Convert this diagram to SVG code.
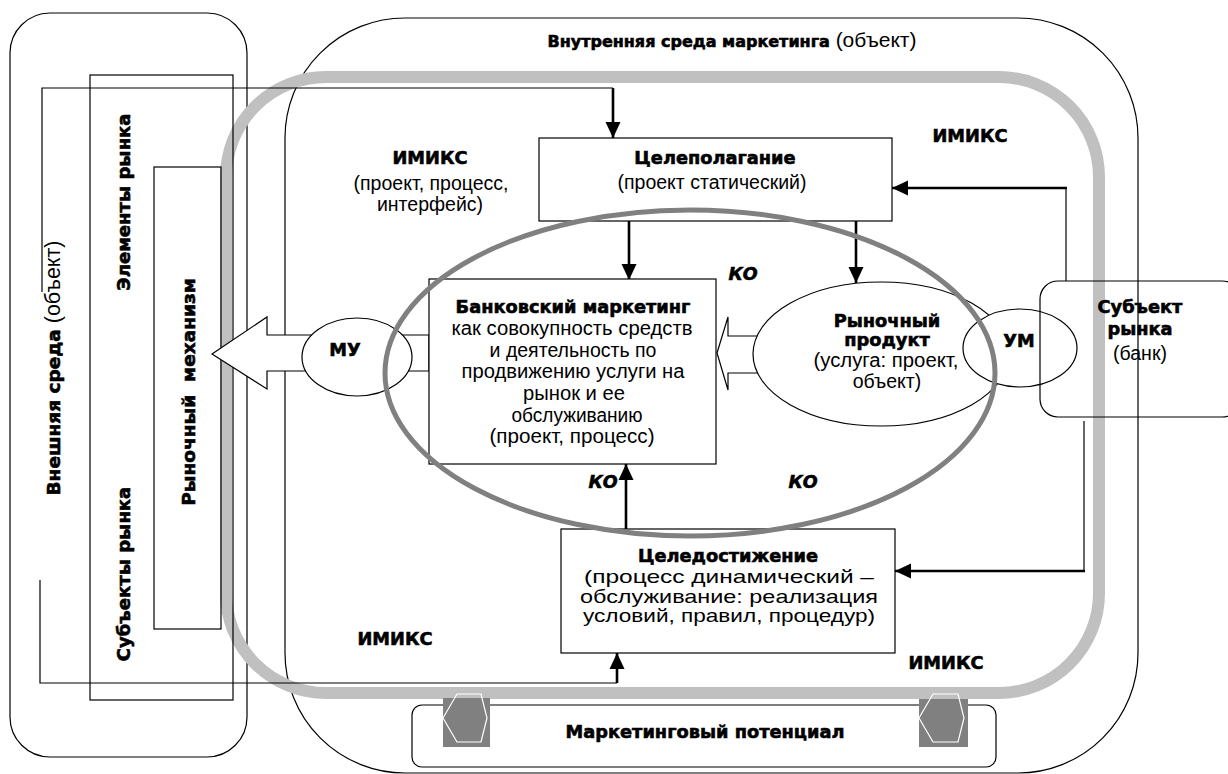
<svg xmlns="http://www.w3.org/2000/svg" width="1228" height="774" viewBox="0 0 1228 774">
<style>
.b{font-family:"DejaVu Sans",sans-serif;font-weight:bold;font-size:17.8px;fill:#000;stroke:#000;stroke-width:0.6}
.r{font-family:"Liberation Sans",Arial,sans-serif;font-size:19.5px;fill:#000;stroke:none;font-weight:normal}
.bi{font-family:"DejaVu Sans",sans-serif;font-weight:bold;font-style:italic;font-size:17.5px;fill:#000;stroke:#000;stroke-width:0.6}
.ln{fill:none;stroke:#000;stroke-width:1.2}
.th{fill:none;stroke:#000;stroke-width:2.6;marker-end:url(#ah)}
.box{fill:#fff;stroke:#000;stroke-width:1.2}
.open{fill:none;stroke:#000;stroke-width:1.2}
.hexsq{fill:#808080}
.hex{fill:none;stroke:#fff;stroke-width:1.2}
text{text-anchor:middle}
</style>
<defs>
<marker id="ah" markerUnits="userSpaceOnUse" markerWidth="16" markerHeight="16" refX="16" refY="8" orient="auto">
<path d="M0,0.5 L16,8 L0,15.5 z" fill="#000"/>
</marker>
</defs>
<rect width="1228" height="774" fill="#fff"/>

<g id="external-env">
<rect class="open" x="10" y="13" width="237" height="744" rx="40"/>
<text class="b" style="font-size:18.5px" transform="translate(60,368) rotate(-90)">Внешняя среда<tspan class="r" style="font-size:21.5px"> (объект)</tspan></text>
</g>

<g id="internal-env">
<rect class="open" x="285" y="18" width="853" height="755" rx="120"/>
<text x="732" y="47"><tspan class="b" style="font-size:16px">Внутренняя среда маркетинга</tspan><tspan class="r" style="font-size:21px"> (объект)</tspan></text>
</g>

<rect id="imix-band" x="226" y="77" width="873" height="616" rx="100" fill="none" stroke="#c0c0c0" stroke-width="12"/>

<g id="market-elements">
<rect class="open" x="90" y="75" width="143" height="625"/>
<text class="b" style="font-size:18px" transform="translate(130,202) rotate(-90)">Элементы рынка</text>
<text class="b" style="font-size:18px" transform="translate(130,574) rotate(-90)">Субъекты рынка</text>
</g>

<g id="market-mechanism">
<rect class="open" x="154" y="167" width="67" height="462"/>
<text class="b" style="white-space:pre;font-size:18.5px" transform="translate(195,392) rotate(-90)">Рыночный  механизм</text>
</g>

<g id="imix-labels">
<text class="b" x="430" y="164">ИМИКС</text>
<text class="r" x="431" y="190">(проект, процесс,</text>
<text class="r" x="430" y="211">интерфейс)</text>
<text class="b" x="970" y="142">ИМИКС</text>
<text class="b" x="395" y="645">ИМИКС</text>
<text class="b" x="946" y="669">ИМИКС</text>
</g>

<g id="connectors">
<path class="ln" d="M42,292 V88 H613"/>
<path class="th" d="M613,88 V138"/>
<path class="ln" d="M40,580 V683 H617"/>
<path class="th" d="M617,683 V653"/>
<path class="ln" d="M1066,281 V188"/>
<path class="th" d="M1067,188 H892"/>
<path class="ln" d="M1084,421 V571"/>
<path class="th" d="M1085,571 H895"/>
<path class="th" d="M629,221 V280"/>
<path class="th" d="M856,221 V283"/>
<path class="th" d="M626,529 V464"/>
<polygon class="box" points="212,354 267,317 267,335 429,335 429,371 267,371 267,389"/>
<polygon class="box" points="717,353 728,317 728,336 770,336 770,373 728,373 728,390"/>
</g>

<g id="goal-setting">
<rect class="box" x="539" y="138" width="353" height="83"/>
<text class="b" x="715" y="164">Целеполагание</text>
<text class="r" x="712" y="189">(проект статический)</text>
</g>

<g id="bank-marketing">
<rect class="box" x="429" y="279" width="287" height="185"/>
<text class="b" x="573" y="313">Банковский маркетинг</text>
<text class="r" x="572" y="335" textLength="241" lengthAdjust="spacingAndGlyphs">как совокупность средств</text>
<text class="r" x="573" y="357">и деятельность по</text>
<text class="r" x="573" y="378" textLength="223" lengthAdjust="spacingAndGlyphs">продвижению услуги на</text>
<text class="r" x="574" y="400" textLength="102" lengthAdjust="spacingAndGlyphs">рынок и ее</text>
<text class="r" x="577" y="422" textLength="131" lengthAdjust="spacingAndGlyphs">обслуживанию</text>
<text class="r" x="572" y="443" textLength="165" lengthAdjust="spacingAndGlyphs">(проект, процесс)</text>
</g>

<g id="goal-achievement">
<rect class="box" x="561" y="529" width="334" height="124"/>
<text class="b" x="728" y="562">Целедостижение</text>
<text class="r" style="font-size:18.5px" x="729" y="583" textLength="290" lengthAdjust="spacingAndGlyphs">(процесс динамический –</text>
<text class="r" style="font-size:18.5px" x="729" y="603" textLength="298" lengthAdjust="spacingAndGlyphs">обслуживание: реализация</text>
<text class="r" style="font-size:18.5px" x="729" y="622" textLength="292" lengthAdjust="spacingAndGlyphs">условий, правил, процедур)</text>
</g>

<g id="market-product">
<ellipse class="box" cx="881" cy="354" rx="128" ry="72"/>
<text class="b" x="887" y="327">Рыночный</text>
<text class="b" x="887" y="346">продукт</text>
<text class="r" x="886" y="367" textLength="145" lengthAdjust="spacingAndGlyphs">(услуга: проект,</text>
<text class="r" x="887" y="388">объект)</text>
</g>

<g id="um">
<ellipse class="box" cx="1020" cy="348" rx="57" ry="39"/>
<text class="b" x="1019" y="347">УМ</text>
</g>

<g id="mu">
<ellipse class="box" cx="357" cy="357" rx="55" ry="39"/>
<text class="b" x="345" y="356">МУ</text>
</g>

<g id="market-subject">
<rect class="open" x="1040" y="281" width="200" height="136" rx="18"/>
<text class="b" x="1140" y="313">Субъект</text>
<text class="b" x="1140" y="335">рынка</text>
<text class="r" x="1140" y="360">(банк)</text>
</g>

<ellipse id="ko-ellipse" cx="690" cy="373" rx="305" ry="163" fill="none" stroke="#808080" stroke-width="5"/>

<g id="ko-labels">
<text class="bi" x="743" y="280">КО</text>
<text class="bi" x="603" y="488">КО</text>
<text class="bi" x="803" y="488">КО</text>
</g>

<g id="marketing-potential">
<rect class="box" x="412" y="705" width="584" height="62" rx="10"/>
<rect class="hexsq" x="443" y="698" width="47" height="49"/>
<polygon class="hex" points="443,718 457,694 481,694 487,718 481,742 457,742"/>
<rect class="hexsq" x="919" y="699" width="49" height="48"/>
<polygon class="hex" points="919,718 933,694 958,694 964,718 958,742 933,742"/>
<text class="b" x="705" y="738">Маркетинговый потенциал</text>
</g>
</svg>
